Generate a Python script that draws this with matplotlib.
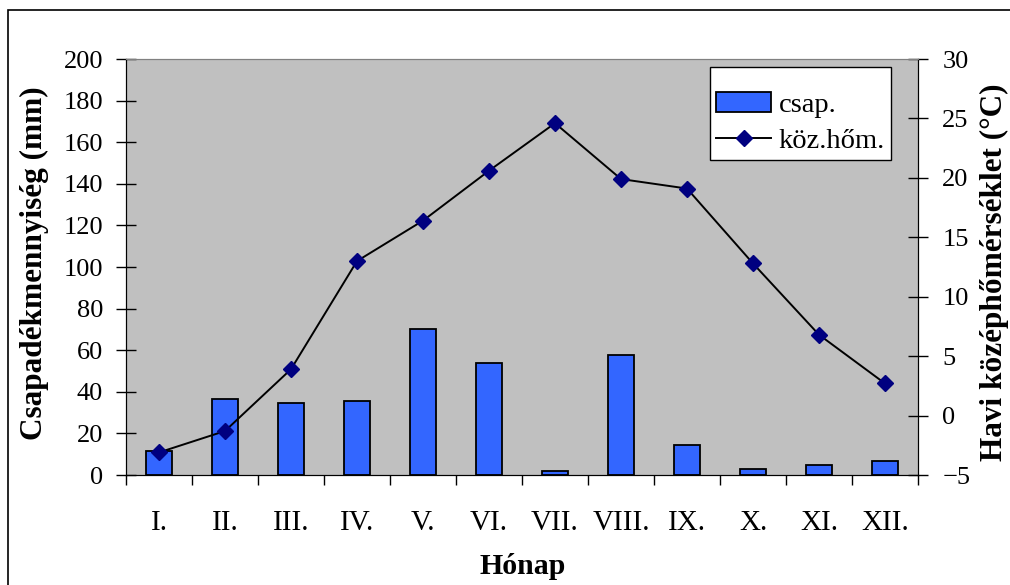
import matplotlib
matplotlib.use("Agg")
import matplotlib.pyplot as plt
from matplotlib.patches import Rectangle
import numpy as np

plt.rcParams['font.family'] = ['Liberation Serif', 'DejaVu Serif']

months = ["I.", "II.", "III.", "IV.", "V.", "VI.", "VII.", "VIII.", "IX.", "X.", "XI.", "XII."]
precip = [11.5, 36.5, 34.8, 35.6, 70.3, 54.0, 1.9, 57.8, 14.6, 3.0, 4.8, 6.9]
temp = [-3.1, -1.3, 3.9, 13.0, 16.4, 20.6, 24.6, 19.9, 19.1, 12.8, 6.8, 2.7]
left_ticks = [0, 20, 40, 60, 80, 100, 120, 140, 160, 180, 200]
right_ticks = [-5, 0, 5, 10, 15, 20, 25, 30]

W, H = 1010, 585
fig = plt.figure(figsize=(W / 100, H / 100), dpi=100)
fig.patch.set_facecolor('white')

# outer chart border
fig.patches.append(Rectangle((8 / W, -0.05), 1.1, (H - 10) / H + 0.05,
                             transform=fig.transFigure, fill=False,
                             edgecolor='black', linewidth=1.2))

ax = fig.add_axes([126 / W, 1 - 475 / H, (918 - 126) / W, (475 - 59) / H])
ax.set_facecolor('#C0C0C0')
x = np.arange(len(months))
bars = ax.bar(x, precip, width=0.4, color='#3366FF', edgecolor='black',
              linewidth=1.3, label='csap.', zorder=2)
ax.set_xlim(-0.5, len(months) - 0.5)
ax.set_ylim(0, 200)
ax.set_yticks(left_ticks)
ax.set_xticks(np.arange(-0.5, len(months), 1.0), minor=False)
ax.set_xticklabels([])
ax.set_xticks(x, minor=True)
ax.set_xticklabels(months, minor=True)
ax.tick_params(axis='x', which='major', direction='out', length=7.2, width=1, color='black')
ax.tick_params(axis='x', which='minor', length=0, pad=25, labelsize=21)
ax.tick_params(axis='y', direction='inout', length=15, width=1, pad=9, labelsize=19)

ax.spines['top'].set_color('#808080')
ax.spines['left'].set_color('black')
ax.spines['bottom'].set_color('black')
ax.spines['right'].set_color('black')

ax2 = ax.twinx()
ax2.patch.set_visible(False)
line, = ax2.plot(x, temp, color='black', linewidth=1.4, marker='D', markersize=8.5,
                 markerfacecolor='#000080', markeredgecolor='#000080', label='köz.hőm.', zorder=3)
ax2.set_ylim(-5, 30)
ax2.set_yticks(right_ticks)
ax2.tick_params(axis='y', direction='inout', length=15, width=1, pad=10, labelsize=19)
ax2.spines['top'].set_color('#808080')
ax2.spines['right'].set_color('black')

leg = ax2.legend([bars, line], ['csap.', 'köz.hőm.'], loc='upper right',
                 bbox_to_anchor=((891 - 126) / 792, (475 - 67) / 416),
                 fontsize=20.5, frameon=True, fancybox=False, edgecolor='black',
                 framealpha=1, borderpad=0.22, handlelength=1.93, handleheight=0.7,
                 handletextpad=0.25, labelspacing=0.37, borderaxespad=0,
                 title=' ', title_fontsize=6)
leg.get_frame().set_linewidth(1.0)

fig.text(34 / W, 1 - 263 / H, 'Csapadékmennyiség (mm)', rotation=90, ha='center', va='center',
         fontsize=22.5, fontweight='bold')
fig.text(994 / W, 1 - 272 / H, 'Havi középhőmérséklet (°C)', rotation=90, ha='center', va='center',
         fontsize=22.5, fontweight='bold')
fig.text(523 / W, 1 - 566 / H, 'Hónap', ha='center', va='center', fontsize=21.5, fontweight='bold')

fig.savefig('out.png', dpi=100)
